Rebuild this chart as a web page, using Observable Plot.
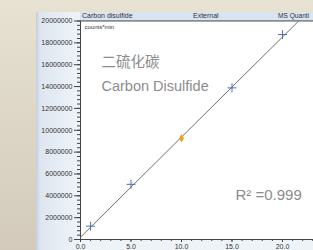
<!DOCTYPE html>
<html>
<head>
<meta charset="utf-8">
<script src="https://cdn.jsdelivr.net/npm/d3@7"></script>
<script src="https://cdn.jsdelivr.net/npm/@observablehq/plot@0.6"></script>
<style>
  html, body { margin: 0; padding: 0; }
  #wrap { position: relative; width: 313px; height: 250px; overflow: hidden;
    background: linear-gradient(to bottom, #e7e2d2 0%, #ddd6c6 50%, #d3cabb 100%);
    font-family: "Liberation Sans", Arial, sans-serif; }
  #panel { position: absolute; left: 36px; top: 12px; right: 0; bottom: 0;
    background: linear-gradient(to right, #c4cfdc 0px, #dde6f0 4px, #e9eff6 30px, #eef3f8 44px); }
  #header { position: absolute; left: 80px; top: 12px; right: 0; height: 8px;
    background: #d9e4f1; border-bottom: 1px solid #b8c6d6; font-size: 7px; color: #333; }
  #header span { position: absolute; top: -0.5px; white-space: nowrap; line-height: 8px; }
  #chart { position: absolute; left: 0; top: 0; }
</style>
</head>
<body>
<div id="wrap">
  <div id="panel"></div>
  <div id="header"><span style="left:2px">Carbon disulfide</span><span style="left:113px">External</span><span style="left:198px;font-size:6.6px">MS Quanti</span></div>
  <div id="chart"></div>
</div>
<script>
// Tick values and labels
const yTicks = [0, 2000000, 4000000, 6000000, 8000000, 10000000, 12000000, 14000000, 16000000, 18000000, 20000000];
const yTickLabels = ["0", "2000000", "4000000", "6000000", "8000000", "10000000", "12000000", "14000000", "16000000", "18000000", "20000000"];
const yMinorTicks = d3.range(0, 20000001, 400000);
const xTicks = [0, 5, 10, 15, 20];
const xTickLabels = ["0.0", "5.0", "10.0", "15.0", "20.0"];
const xMinorTicks = [0,1,2,3,4,5,6,7,8,9,10,11,12,13,14,15,16,17,18,19,20,21,22,23];

// Calibration standards (blue crosses)
const stdX = [1, 5, 15, 20];
const stdY = [1220000, 5050000, 13880000, 18760000];
// Sample point (orange diamond)
const sampleX = [10];
const sampleY = [9270000];
// Fitted calibration line endpoints
const fitX = [0, 21.6];
const fitY = [210000, 20000000];

const stds = stdX.map((x, i) => ({x, y: stdY[i]}));
const samples = sampleX.map((x, i) => ({x, y: sampleY[i]}));
const fit = fitX.map((x, i) => ({x, y: fitY[i]}));

const chart = Plot.plot({
  width: 313,
  height: 250,
  marginLeft: 80,
  marginRight: 0,
  marginTop: 20.5,
  marginBottom: 11,
  style: { background: "transparent", fontFamily: "Liberation Sans, Arial, sans-serif" },
  x: { domain: [0, 23.07], label: null },
  y: { domain: [0, 20000000], label: null },
  marks: [
    Plot.frame({ fill: "white", stroke: null }),
    Plot.axisY({ ticks: yMinorTicks, tickSize: 3, text: null, stroke: "#444", label: null }),
    Plot.axisY({ ticks: yTicks, tickSize: 6, tickPadding: 2, fontSize: 7, fill: "#333", stroke: "#444",
      tickFormat: d => yTickLabels[yTicks.indexOf(d)], label: null }),
    Plot.axisX({ ticks: xMinorTicks, tickSize: 2, text: null, stroke: "#444", label: null }),
    Plot.axisX({ ticks: xTicks, tickSize: 3, tickPadding: 1.5, fontSize: 7, fill: "#333", stroke: "#444",
      tickFormat: d => xTickLabels[xTicks.indexOf(d)], label: null }),
    Plot.ruleX([0], { stroke: "#444" }),
    Plot.ruleY([0], { stroke: "#444" }),
    Plot.ruleY([20000000], { stroke: "#555" }),
    Plot.line(fit, { x: "x", y: "y", stroke: "#707070", strokeWidth: 1 }),
    Plot.dot(stds, { x: "x", y: "y", symbol: "plus", r: 3, stroke: "#4a72b0", strokeWidth: 1 }),
    Plot.dot(samples, { x: "x", y: "y", symbol: "diamond", r: 2.6, fill: "#f0a028", stroke: null }),
    Plot.text(["counts*min"], { frameAnchor: "top-left", dx: 4, dy: 6.5, fontSize: 6, fill: "#333", lineAnchor: "middle", textAnchor: "start" }),
    Plot.text(["二硫化碳"], { frameAnchor: "top-left", dx: 21, dy: 41.5, fontSize: 14.5, fill: "#8c8c8c", lineAnchor: "middle", textAnchor: "start", fontFamily: "Noto Sans CJK SC" }),
    Plot.text(["Carbon Disulfide"], { frameAnchor: "top-left", dx: 21, dy: 65.5, fontSize: 14.5, fill: "#8c8c8c", lineAnchor: "middle", textAnchor: "start" }),
    Plot.text(["R² =0.999"], { frameAnchor: "top-left", dx: 155, dy: 174.5, fontSize: 15, fill: "#8c8c8c", lineAnchor: "middle", textAnchor: "start" })
  ]
});
document.getElementById("chart").appendChild(chart);
</script>
</body>
</html>
